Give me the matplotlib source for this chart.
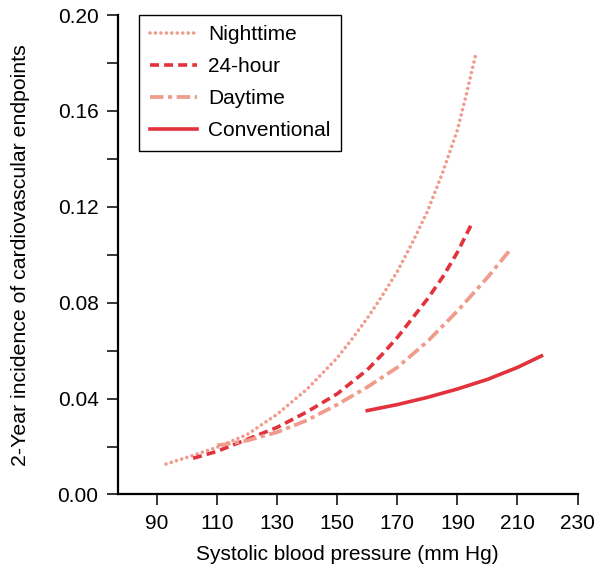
import matplotlib
matplotlib.use("Agg")
import matplotlib.pyplot as plt

plt.rcParams['font.family'] = ['Liberation Sans', 'DejaVu Sans']

# values
night_x = [93, 100, 110, 120, 130, 140, 150, 155, 160, 165, 170, 175, 180, 185, 190, 193, 196]
night_y = [0.0127, 0.0155, 0.0197, 0.025, 0.0335, 0.044, 0.057, 0.065, 0.0735, 0.083, 0.093,
           0.105, 0.118, 0.134, 0.152, 0.167, 0.183]

h24_x = [102, 110, 120, 130, 140, 150, 160, 165, 170, 175, 180, 185, 190, 195]
h24_y = [0.0151, 0.018, 0.023, 0.028, 0.0345, 0.042, 0.052, 0.0585, 0.0655, 0.0735, 0.0815,
         0.0905, 0.101, 0.1135]

day_x = [110, 115, 120, 130, 140, 150, 160, 170, 180, 190, 200, 208]
day_y = [0.0205, 0.0214, 0.0225, 0.026, 0.031, 0.0375, 0.0448, 0.053, 0.0638, 0.0765, 0.0905, 0.1027]

conv_x = [160, 170, 180, 190, 200, 210, 218]
conv_y = [0.035, 0.0375, 0.0405, 0.044, 0.048, 0.053, 0.0578]

xticks = [90, 110, 130, 150, 170, 190, 210, 230]
yticks = [0.00, 0.02, 0.04, 0.06, 0.08, 0.10, 0.12, 0.14, 0.16, 0.18, 0.20]

red = '#E2323C'
salmon = '#F09C8C'

fig = plt.figure(figsize=(5.96, 5.77), dpi=100)
ax = fig.add_axes([0.198, 0.143, 0.771, 0.831])

ax.plot(night_x, night_y, color=salmon, lw=2.6, linestyle=(0, (0.01, 1.5)),
        dash_capstyle='round', label='Nighttime')
ax.plot(h24_x, h24_y, color=red, lw=2.6, linestyle=(0, (2.5, 1.4)), label='24-hour')
ax.plot(day_x, day_y, color=salmon, lw=2.7, linestyle=(0, (3.6, 1.2, 1.1, 1.2)), label='Daytime')
ax.plot(conv_x, conv_y, color=red, lw=2.6, label='Conventional')

ax.set_xlim(77, 230)
ax.set_ylim(0, 0.20)
ax.set_xticks(xticks)
ax.set_yticks(yticks)
ax.set_yticklabels(['%.2f' % v if i % 2 == 0 else '' for i, v in enumerate(yticks)])

for s in ['top', 'right']:
    ax.spines[s].set_visible(False)
for s in ['left', 'bottom']:
    ax.spines[s].set_linewidth(1.6)
ax.tick_params(direction='out', length=8, width=1.1, labelsize=15, pad=6)

ax.set_xlabel('Systolic blood pressure (mm Hg)', fontsize=15, labelpad=9)
ax.set_ylabel('2-Year incidence of cardiovascular endpoints', fontsize=15.3, labelpad=20)

leg = ax.legend(loc='upper left', bbox_to_anchor=(0.046, 1.0), borderaxespad=0,
                fontsize=15, handlelength=2.3, labelspacing=0.62, fancybox=False,
                framealpha=1, edgecolor='black', borderpad=0.5, handletextpad=0.5)
leg.get_frame().set_linewidth(1.0)

fig.savefig('out.png', dpi=100)
